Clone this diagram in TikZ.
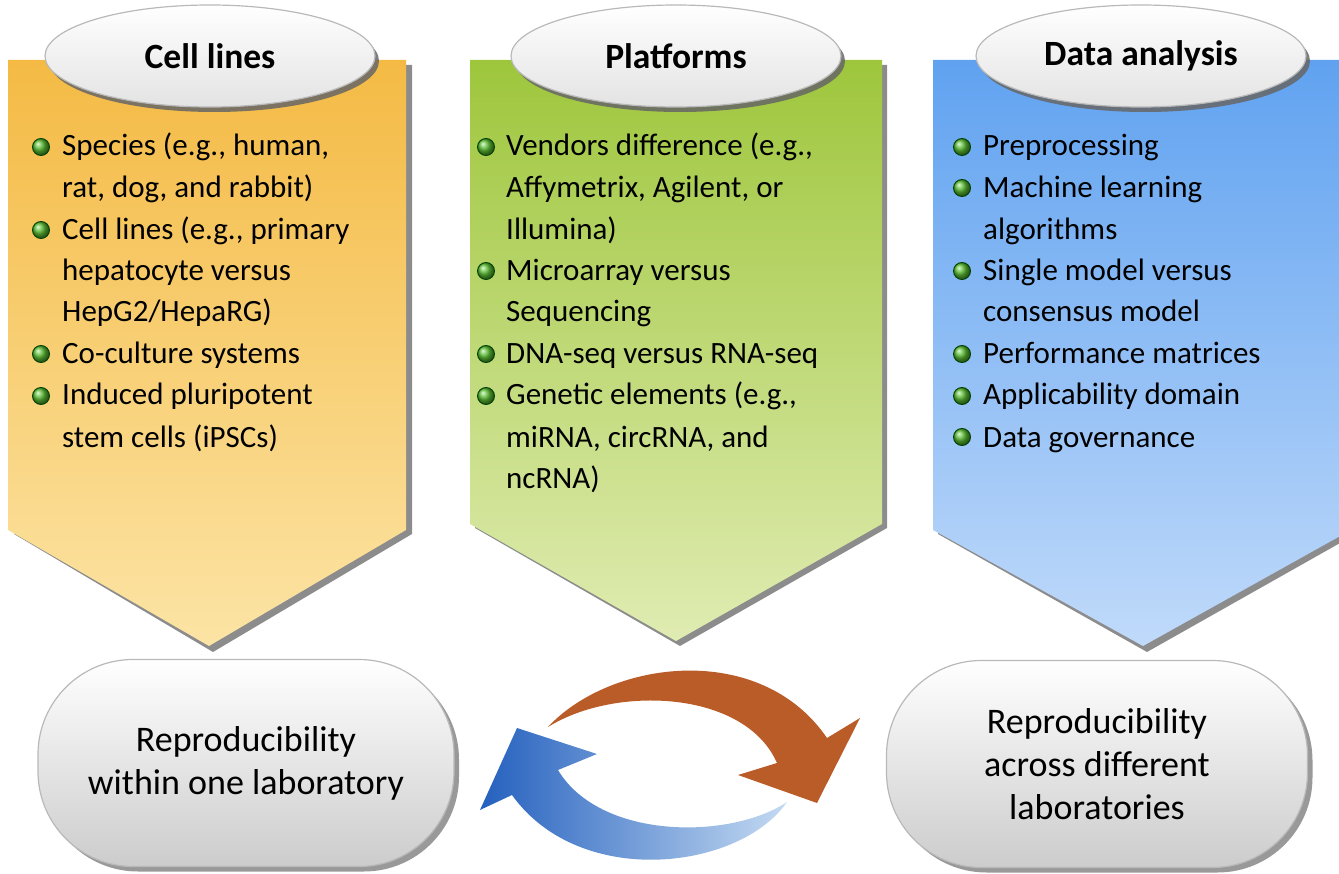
\documentclass[tikz,border=0pt]{standalone}
\usepackage{fontspec}
\setmainfont{Carlito}
\usetikzlibrary{shapes.geometric,shadows}
\definecolor{orTop}{RGB}{244,186,68}
\definecolor{orBot}{RGB}{252,228,165}
\definecolor{grTop}{RGB}{158,198,60}
\definecolor{grBot}{RGB}{224,236,178}
\definecolor{blTop}{RGB}{96,162,240}
\definecolor{blBot}{RGB}{192,218,250}
\definecolor{arrOr}{RGB}{186,92,40}
\definecolor{arrBlD}{RGB}{36,96,190}
\definecolor{arrBlL}{RGB}{196,218,242}
\definecolor{ballG}{RGB}{90,190,50}
\tikzset{
  x=1pt, y=-1pt,
  panelshadow/.style={fill=black!45},
  titleell/.style={ellipse, draw=gray!55, line width=1.2pt, top color=white, bottom color=gray!22,
     minimum width=330pt, minimum height=102pt, inner sep=0pt,
     drop shadow={shadow xshift=4pt, shadow yshift=-5pt, fill=black!60, opacity=0.85},
     font=\fontsize{35.5}{40}\selectfont\bfseries},
  itemtxt/.style={anchor=base west, inner sep=0pt, font=\fontsize{31}{36}\selectfont},
  bullet/.style={circle, minimum size=17pt, inner sep=0pt, shading=ball, ball color=ballG, draw=green!25!black, line width=0.9pt},
  botbox/.style={rounded corners=95pt, draw=gray!55, line width=1.2pt, top color=white, bottom color=gray!40,
     minimum width=416pt, minimum height=207pt, inner sep=0pt, align=center,
     drop shadow={shadow xshift=5pt, shadow yshift=-5pt, fill=black!50, opacity=0.8},
     font=\fontsize{36}{43}\selectfont},
}
\begin{document}
\begin{tikzpicture}
\useasboundingbox (0,0) rectangle (1339,874);
% ---- panels
\fill[panelshadow] (14,65) -- (412,65) -- (412,534) -- (213,652) -- (14,534) -- cycle;
\shade[top color=orTop, bottom color=orBot] (8,60) -- (406,60) -- (406,530) -- (209,646) -- (8,530) -- cycle;
\fill[panelshadow] (475,65) -- (887,65) -- (887,528) -- (680,646) -- (475,528) -- cycle;
\shade[top color=grTop, bottom color=grBot] (470,60) -- (882,60) -- (882,524) -- (676,641) -- (470,524) -- cycle;
\fill[panelshadow] (938,65) -- (1356,65) -- (1356,534) -- (1147,652) -- (938,534) -- cycle;
\shade[top color=blTop, bottom color=blBot] (933,60) -- (1351,60) -- (1351,530) -- (1143,646) -- (933,530) -- cycle;
% ---- titles
\node[titleell] (t1) at (210,56) {Cell lines};
\node[titleell] (t2) at (676,56) {Platforms};
\node[titleell] (t3) at (1141,56) {Data analysis};
% ---- cell lines list
\node[bullet] (b11) at (41,147) {};
\node[itemtxt] (l11) at (62,156) {Species (e.g., human,};
\node[itemtxt] (l12) at (62,198) {rat, dog, and rabbit)};
\node[bullet] (b12) at (41,230) {};
\node[itemtxt] (l13) at (62,240) {Cell lines (e.g., primary};
\node[itemtxt] (l14) at (62,281) {hepatocyte versus};
\node[itemtxt] (l15) at (62,322) {HepG2/HepaRG)};
\node[bullet] (b13) at (41,354) {};
\node[itemtxt] (l16) at (62,364) {Co-culture systems};
\node[bullet] (b14) at (41,396) {};
\node[itemtxt] (l17) at (62,405) {Induced pluripotent};
\node[itemtxt] (l18) at (62,447) {stem cells (iPSCs)};
% ---- platforms list
\node[bullet] (b21) at (486,147) {};
\node[itemtxt] (l21) at (506,156) {Vendors difference (e.g.,};
\node[itemtxt] (l22) at (506,198) {Affymetrix, Agilent, or};
\node[itemtxt] (l23) at (506,240) {Illumina)};
\node[bullet] (b22) at (486,271) {};
\node[itemtxt] (l24) at (506,281) {Microarray versus};
\node[itemtxt] (l25) at (506,322) {Sequencing};
\node[bullet] (b23) at (486,354) {};
\node[itemtxt] (l26) at (506,364) {DNA-seq versus RNA-seq};
\node[bullet] (b24) at (486,396) {};
\node[itemtxt] (l27) at (506,405) {Genetic elements (e.g.,};
\node[itemtxt] (l28) at (506,447) {miRNA, circRNA, and};
\node[itemtxt] (l29) at (506,488) {ncRNA)};
% ---- data analysis list
\node[bullet] (b31) at (962,147) {};
\node[itemtxt] (l31) at (983,156) {Preprocessing};
\node[bullet] (b32) at (962,188) {};
\node[itemtxt] (l32) at (983,198) {Machine learning};
\node[itemtxt] (l33) at (983,240) {algorithms};
\node[bullet] (b33) at (962,271) {};
\node[itemtxt] (l34) at (983,281) {Single model versus};
\node[itemtxt] (l35) at (983,322) {consensus model};
\node[bullet] (b34) at (962,354) {};
\node[itemtxt] (l36) at (983,364) {Performance matrices};
\node[bullet] (b35) at (962,396) {};
\node[itemtxt] (l37) at (983,405) {Applicability domain};
\node[bullet] (b36) at (962,437) {};
\node[itemtxt] (l38) at (983,447) {Data governance};
% ---- bottom boxes
\node[botbox] (within) at (246,763) {Reproducibility\\within one laboratory};
\node[botbox, minimum width=421pt] (across) at (1097,764) {Reproducibility\\across different\\laboratories};
% ---- cycle arrows
\fill[arrOr] (548,727) .. controls (610,660) and (760,640) .. (827,738)
  -- (860,718) -- (817,803) -- (738,775) -- (777,763)
  .. controls (745,690) and (615,685) .. (548,727) -- cycle;
\shade[left color=arrBlD, right color=arrBlL] (787,802) .. controls (740,870) and (580,890) .. (512,795)
  -- (480,810) -- (517,728) -- (597,754) -- (558,770)
  .. controls (600,840) and (730,840) .. (787,802) -- cycle;
\end{tikzpicture}
\end{document}
